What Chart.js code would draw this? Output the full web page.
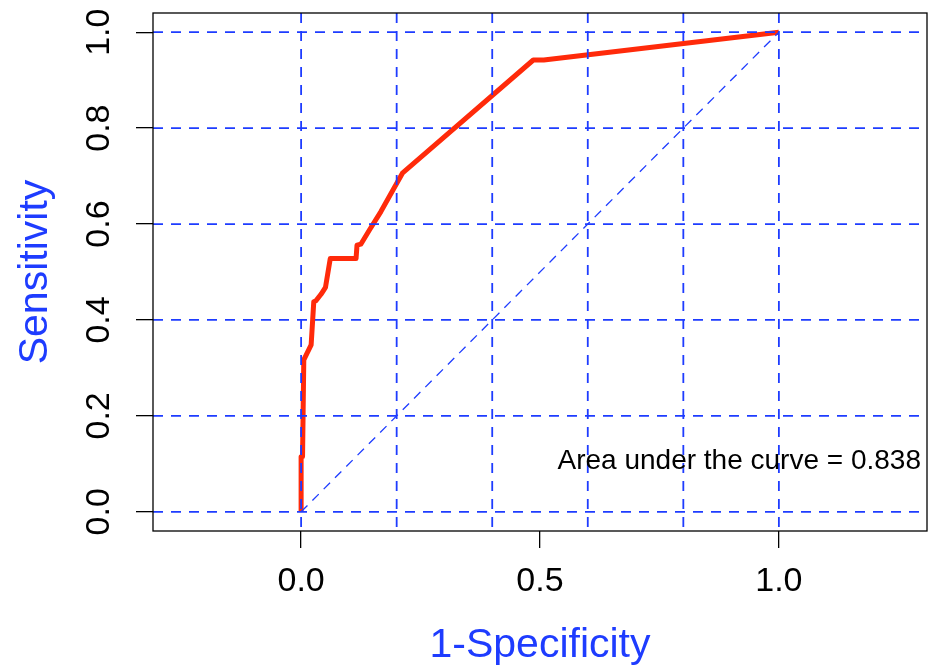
<!DOCTYPE html>
<html>
<head>
<meta charset="utf-8">
<script src="https://cdn.jsdelivr.net/npm/chart.js@4"></script>
<style>
  html, body { margin: 0; padding: 0; background: #fff; }
  #wrap { width: 931px; height: 670px; }
</style>
</head>
<body>
<div id="wrap"><canvas id="rocChart" width="931" height="670"></canvas></div>
<script>
// ROC curve: false positive rate vs true positive rate
const fpr = [0, 0, 0.003, 0.0056, 0.021, 0.0265, 0.031, 0.042, 0.051, 0.061, 0.115, 0.117, 0.125, 0.143, 0.167, 0.212, 0.486, 0.508, 1];
const tpr = [0, 0.115, 0.115, 0.317, 0.348, 0.438, 0.44, 0.454, 0.468, 0.528, 0.528, 0.556, 0.558, 0.5875, 0.626, 0.706, 0.942, 0.942, 1];
const refLine = [0, 1];
const xTicks = [0, 0.5, 1];
const yTicks = [0, 0.2, 0.4, 0.6, 0.8, 1];
const gridVals = [0, 0.2, 0.4, 0.6, 0.8, 1];
const aucLabel = 'Area under the curve = 0.838';
const aucPos = [0.917, 0.106];

const blue = '#1e3cff';

const rocPoints = fpr.map((x, i) => ({ x: x, y: tpr[i] }));
const diagPoints = refLine.map(v => ({ x: v, y: v }));

// dashed grid, box and AUC note, drawn on top like in R
const overlay = {
  id: 'overlay',
  afterDatasetsDraw(chart) {
    const { ctx, chartArea: a, scales: { x, y } } = chart;
    ctx.save();
    ctx.strokeStyle = blue;
    ctx.lineWidth = 1.8;
    ctx.setLineDash([10, 8]);
    gridVals.forEach(v => {
      const px = x.getPixelForValue(v);
      ctx.beginPath(); ctx.moveTo(px, a.top); ctx.lineTo(px, a.bottom); ctx.stroke();
      const py = y.getPixelForValue(v);
      ctx.beginPath(); ctx.moveTo(a.left, py); ctx.lineTo(a.right, py); ctx.stroke();
    });
    ctx.setLineDash([]);
    ctx.strokeStyle = '#000';
    ctx.lineWidth = 1.3;
    ctx.strokeRect(a.left, a.top, a.right - a.left, a.bottom - a.top);
    ctx.fillStyle = '#000';
    ctx.font = '28px "Liberation Sans", Arial, sans-serif';
    ctx.textAlign = 'center';
    ctx.textBaseline = 'middle';
    ctx.fillText(aucLabel, x.getPixelForValue(aucPos[0]), y.getPixelForValue(aucPos[1]));
    ctx.restore();
  }
};

new Chart(document.getElementById('rocChart'), {
  type: 'scatter',
  data: {
    datasets: [
      {
        data: diagPoints,
        showLine: true,
        borderColor: blue,
        borderWidth: 1.3,
        borderDash: [9, 7],
        pointRadius: 0
      },
      {
        data: rocPoints,
        showLine: true,
        borderColor: '#ff2a0a',
        borderWidth: 5,
        borderJoinStyle: 'round',
        pointRadius: 0
      }
    ]
  },
  options: {
    responsive: false,
    animation: false,
    layout: { padding: { top: 13, right: 4, left: 0, bottom: 0 } },
    plugins: { legend: { display: false }, tooltip: { enabled: false } },
    scales: {
      x: {
        type: 'linear',
        min: -0.31,
        max: 1.31,
        afterBuildTicks: s => { s.ticks = xTicks.map(v => ({ value: v })); },
        afterFit: s => { s.height = 139; s.paddingLeft = 0; s.paddingRight = 0; },
        grid: { drawOnChartArea: false, tickLength: 17, tickColor: '#000', lineWidth: 1.3 },
        border: { display: false },
        ticks: {
          color: '#000',
          padding: 13,
          font: { family: '"Liberation Sans", Arial, sans-serif', size: 34 },
          callback: v => v.toFixed(1)
        },
        title: {
          display: true,
          text: '1-Specificity',
          color: blue,
          font: { family: '"Liberation Sans", Arial, sans-serif', size: 41 },
          padding: { top: 0, bottom: 0 }
        }
      },
      y: {
        type: 'linear',
        min: -0.04,
        max: 1.04,
        afterBuildTicks: s => { s.ticks = yTicks.map(v => ({ value: v })); },
        afterFit: s => { s.width = 153; s.paddingTop = 0; s.paddingBottom = 0; },
        grid: { drawOnChartArea: false, tickLength: 17, tickColor: '#000', lineWidth: 1.3 },
        border: { display: false },
        ticks: {
          color: '#000',
          padding: 13,
          minRotation: 90,
          maxRotation: 90,
          crossAlign: 'center',
          font: { family: '"Liberation Sans", Arial, sans-serif', size: 34 },
          callback: v => v.toFixed(1)
        },
        title: {
          display: true,
          text: 'Sensitivity',
          color: blue,
          font: { family: '"Liberation Sans", Arial, sans-serif', size: 41 },
          padding: { top: 11, bottom: 0 }
        }
      }
    }
  },
  plugins: [overlay]
});
</script>
</body>
</html>
